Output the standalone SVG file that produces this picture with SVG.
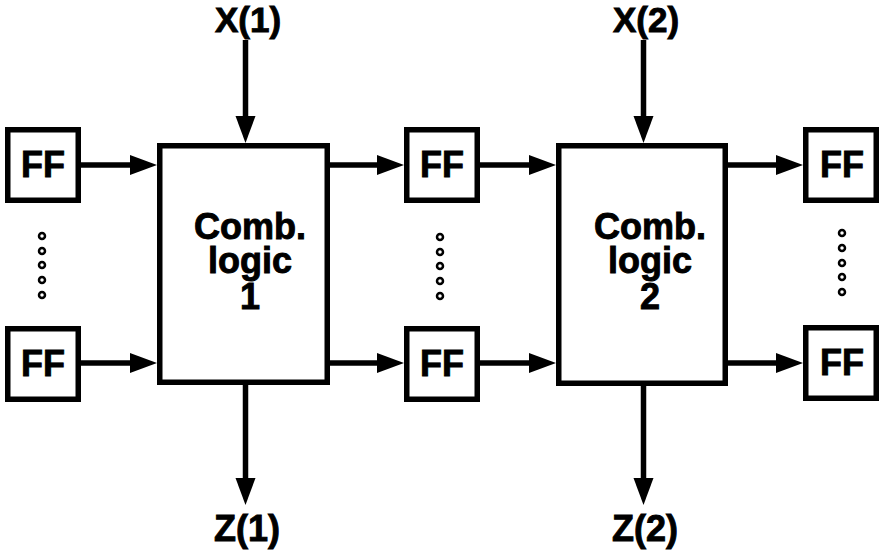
<svg xmlns="http://www.w3.org/2000/svg" width="879" height="551" viewBox="0 0 879 551">
<defs>
<marker id="ah" markerUnits="userSpaceOnUse" markerWidth="28" markerHeight="22" refX="1" refY="10" orient="auto" viewBox="0 0 28 20">
<path d="M0,0 L27,10 L0,20 Z" fill="#000"/>
</marker>
</defs>
<style>
.box{fill:#fff;stroke:#000;stroke-width:5.5}
.t{font-family:"Liberation Sans",Arial,sans-serif;font-weight:bold;font-size:36px;fill:#000;stroke:#000;stroke-width:0.9;text-anchor:middle}
.c{stroke:#000;stroke-width:5.5;fill:none;marker-end:url(#ah)}
.dot{fill:#fff;stroke:#000;stroke-width:2.5}
</style>
<rect width="879" height="551" fill="#fff"/>
<g id="connectors">
<line class="c" x1="245.5" y1="40" x2="245.5" y2="117"/>
<line class="c" x1="245.5" y1="385" x2="245.5" y2="479"/>
<line class="c" x1="643.5" y1="40" x2="643.5" y2="117"/>
<line class="c" x1="643.5" y1="386" x2="643.5" y2="479"/>
<line class="c" x1="81" y1="165" x2="131" y2="165"/>
<line class="c" x1="81" y1="363" x2="131" y2="363"/>
<line class="c" x1="330" y1="165" x2="378" y2="165"/>
<line class="c" x1="330" y1="363" x2="378" y2="363"/>
<line class="c" x1="480" y1="165" x2="530" y2="165"/>
<line class="c" x1="480" y1="363" x2="530" y2="363"/>
<line class="c" x1="728" y1="165" x2="777" y2="165"/>
<line class="c" x1="728" y1="363" x2="777" y2="363"/>
</g>
<g id="ff-l1"><rect class="box" x="7.75" y="129.75" width="70.5" height="70.5"/><text class="t" x="43" y="177">FF</text></g>
<g id="ff-l2"><rect class="box" x="7.75" y="328.75" width="70.5" height="70.5"/><text class="t" x="43" y="376">FF</text></g>
<g id="ff-m1"><rect class="box" x="406.75" y="129.75" width="70.5" height="70.5"/><text class="t" x="442" y="177">FF</text></g>
<g id="ff-m2"><rect class="box" x="406.75" y="328.75" width="70.5" height="70.5"/><text class="t" x="442" y="376">FF</text></g>
<g id="ff-r1"><rect class="box" x="805.75" y="129.75" width="70.5" height="70.5"/><text class="t" x="842" y="177">FF</text></g>
<g id="ff-r2"><rect class="box" x="805.75" y="327.75" width="70.5" height="70.5"/><text class="t" x="842" y="375">FF</text></g>
<g id="comb1"><rect class="box" x="159.75" y="145.75" width="167.5" height="236.5"/><text class="t" x="250" y="239">Comb.</text><text class="t" x="250" y="273">logic</text><text class="t" x="250" y="309">1</text></g>
<g id="comb2"><rect class="box" x="558.75" y="145.75" width="166.5" height="237.5"/><text class="t" x="650" y="239">Comb.</text><text class="t" x="650" y="273">logic</text><text class="t" x="650" y="309">2</text></g>
<g id="x1"><text class="t" x="248" y="32" style="font-size:35px">X(1)</text></g>
<g id="x2"><text class="t" x="646" y="32" style="font-size:35px">X(2)</text></g>
<g id="z1"><text class="t" x="247" y="541">Z(1)</text></g>
<g id="z2"><text class="t" x="645" y="541">Z(2)</text></g>
<g id="dots-l"><circle class="dot" cx="42" cy="236" r="3"/><circle class="dot" cx="42" cy="251" r="3"/><circle class="dot" cx="42" cy="265" r="3"/><circle class="dot" cx="42" cy="280" r="3"/><circle class="dot" cx="42" cy="295" r="3"/></g>
<g id="dots-m"><circle class="dot" cx="440" cy="237" r="3"/><circle class="dot" cx="440" cy="252" r="3"/><circle class="dot" cx="440" cy="266" r="3"/><circle class="dot" cx="440" cy="281" r="3"/><circle class="dot" cx="440" cy="296" r="3"/></g>
<g id="dots-r"><circle class="dot" cx="842" cy="233" r="3"/><circle class="dot" cx="842" cy="248" r="3"/><circle class="dot" cx="842" cy="263" r="3"/><circle class="dot" cx="842" cy="277" r="3"/><circle class="dot" cx="842" cy="292" r="3"/></g>
</svg>
